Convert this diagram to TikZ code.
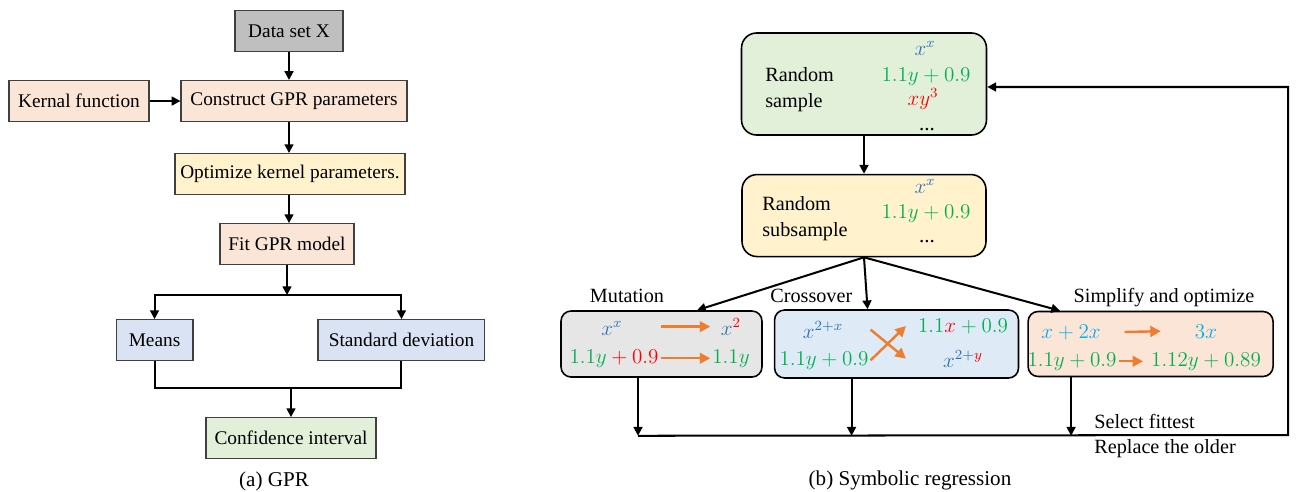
\documentclass[tikz,border=0pt]{standalone}
\usepackage{fontspec}
\setmainfont{Liberation Serif}
\usetikzlibrary{shapes.geometric, arrows.meta, positioning}

\definecolor{datagray}{RGB}{191,191,191}
\definecolor{boxpeach}{RGB}{251,229,214}
\definecolor{boxyellow}{RGB}{255,242,204}
\definecolor{boxblue}{RGB}{218,227,243}
\definecolor{boxgreen}{RGB}{226,240,217}
\definecolor{boxgray}{RGB}{231,230,230}
\definecolor{boxsky}{RGB}{222,235,247}
\definecolor{termblue}{RGB}{46,117,182}
\definecolor{termgreen}{RGB}{0,176,80}
\definecolor{termred}{RGB}{255,0,0}
\definecolor{termcyan}{RGB}{0,176,240}
\definecolor{swaporange}{RGB}{237,125,49}

\tikzstyle{gprbox} = [rectangle, minimum height=0.82cm, text centered, draw=black!75, line width=0.6pt, fill=boxpeach, inner sep=2pt]
\tikzstyle{srbox} = [rectangle, rounded corners=0.3cm, draw=black, line width=0.9pt]
\tikzstyle{srtext} = [font=\fontsize{11.5}{14.8}\selectfont, inner sep=0pt, align=left]
\tikzstyle{termnode} = [font=\fontsize{12}{14}\selectfont, inner sep=1pt, anchor=base]
\tikzstyle{arrow} = [line width=1.15pt, -{Triangle[length=5pt,width=5pt]}]
\tikzstyle{swaparrow} = [draw=swaporange, line width=1.4pt, -{Triangle[length=6pt,width=6pt]}]

\begin{document}
\begin{tikzpicture}[x=0.02cm, y=-0.02cm, font=\fontsize{11}{13}\selectfont]
\useasboundingbox (0,0) rectangle (1298,491);

% GPR flow
\node (data) [gprbox, fill=datagray, minimum width=2.16cm] at (289,31) {Data set X};
\node (construct) [gprbox, minimum width=4.52cm, below=0.56cm of data, xshift=0.1cm] {Construct GPR parameters};
\node (kernal) [gprbox, minimum width=2.8cm, left=0.62cm of construct] {Kernal function};
\node (optimize) [gprbox, fill=boxyellow, minimum width=4.6cm, below=0.62cm of construct, xshift=-0.08cm] {Optimize kernel parameters.};
\node (fit) [gprbox, minimum width=2.68cm, below=0.56cm of optimize, xshift=-0.06cm] {Fit GPR model};

% GPR outputs
\node (means) [gprbox, fill=boxblue, minimum width=1.54cm, below=1.08cm of fit, xshift=-2.65cm] {Means};
\node (std) [gprbox, fill=boxblue, minimum width=3.34cm, below=1.08cm of fit, xshift=2.29cm] {Standard deviation};
\node (confidence) [gprbox, fill=boxgreen, minimum width=3.4cm, below=3.04cm of fit, xshift=0.08cm] {Confidence interval};
\node (cap-a) [font=\fontsize{12}{14}\selectfont] at (274,481) {(a) GPR};

\coordinate (split) at ([yshift=-0.6cm]fit.south);
\coordinate (merge) at ([yshift=0.58cm]confidence.north);

\draw [arrow] (data) -- (data |- construct.north);
\draw [arrow] (kernal) -- (construct);
\draw [arrow] (construct.south -| data) -- (optimize.north -| data);
\draw [arrow] (optimize.south -| data) -- (fit.north -| data);
\draw [arrow] (fit) -- (split);
\draw [arrow] (split) -| (means);
\draw [arrow] (split) -| (std);
\draw [line width=1.15pt] (means) |- (merge) -| (std);
\draw [arrow] (merge) -- (confidence);

% Population
\node (sample) [srbox, fill=boxgreen, minimum width=4.9cm, minimum height=2.04cm] at (864,84) {};
\node (sample-text) [srtext, anchor=west] at (765,90) {Random\\sample};
\node (sample-t1) [termnode] at (925,55) {$\color{termblue}x^x$};
\node (sample-t2) [termnode] at (926,81) {$\color{termgreen}1.1y+0.9$};
\node (sample-t3) [termnode] at (923,105) {$\color{termred}xy^3$};
\node (sample-t4) [termnode] at (927,130) {...};

\node (subsample) [srbox, fill=boxyellow, minimum width=4.88cm, minimum height=1.64cm, below=0.76cm of sample] {};
\node (subsample-text) [srtext, anchor=west] at (762,219) {Random\\subsample};
\node (subsample-t1) [termnode] at (925,193) {$\color{termblue}x^x$};
\node (subsample-t2) [termnode] at (926,218) {$\color{termgreen}1.1y+0.9$};
\node (subsample-t3) [termnode] at (927,242) {...};

% Operators
\node (mutation) [srbox, rounded corners=0.2cm, fill=boxgray, minimum width=4.02cm, minimum height=1.32cm] at (661.5,344) {};
\node (crossover) [srbox, rounded corners=0.2cm, fill=boxsky, minimum width=4.88cm, minimum height=1.36cm, right=0.22cm of mutation] {};
\node (simplify) [srbox, rounded corners=0.2cm, fill=boxpeach, minimum width=4.9cm, minimum height=1.3cm, right=0.16cm of crossover] {};

\node (mutation-label) [srtext, anchor=base] at (627,302) {Mutation};
\node (crossover-label) [srtext, anchor=base west] at (770,302) {Crossover};
\node (simplify-label) [srtext, anchor=base] at (1164,302) {Simplify and optimize};

% Mutation
\node (mutation-src1) [termnode] at (612,335) {$\color{termblue}x^x$};
\node (mutation-dst1) [termnode] at (731,335) {$\color{termblue}x^{\color{termred}2}$};
\node (mutation-src2) [termnode] at (614,363) {$\color{termgreen}1.1y\color{termred}+0.9$};
\node (mutation-dst2) [termnode] at (731,363) {$\color{termgreen}1.1y$};
\draw [swaparrow] (mutation-src2.east |- mutation-dst1) -- (mutation-dst2.west |- mutation-dst1);
\draw [swaparrow] (mutation-src2) -- (mutation-dst2);

% Crossover
\node (crossover-src1) [termnode] at (823,338) {$\color{termblue}x^{2+x}$};
\node (crossover-src2) [termnode] at (824,365) {$\color{termgreen}1.1y+0.9$};
\node (crossover-dst1) [termnode] at (963,332) {$\color{termgreen}1.1\color{termred}x\color{termgreen}+0.9$};
\node (crossover-dst2) [termnode] at (963,367) {$\color{termblue}x^{2+\color{termred}y}$};
\draw [swaparrow] (crossover-src2.east) -- ([xshift=-0.2cm]crossover-dst1.west);
\draw [swaparrow] (crossover-src2.east |- crossover-src1) -- ([xshift=-0.2cm]crossover-dst1.west |- crossover-dst2);

% Simplify
\node (simplify-src1) [termnode] at (1071,338) {$\color{termcyan}x+2x$};
\node (simplify-dst1) [termnode] at (1206,338) {$\color{termcyan}3x$};
\node (simplify-src2) [termnode] at (1072,366) {$\color{termgreen}1.1y+0.9$};
\node (simplify-dst2) [termnode] at (1206,366) {$\color{termgreen}1.12y+0.89$};
\draw [swaparrow] ([xshift=0.44cm]simplify-src1.east) -- ([xshift=-0.64cm]simplify-dst1.west);
\draw [swaparrow] (simplify-src2) -- ([xshift=-0.12cm]simplify-dst2.west);

% Arrows
\draw [arrow] (sample) -- (subsample);
\draw [arrow] (subsample.south) -- ([xshift=0.71cm]mutation.north);
\draw [arrow] (subsample.south) -- ([xshift=-0.58cm]crossover.north);
\draw [arrow] (subsample.south) -- ([xshift=-1.81cm]simplify.north);

\coordinate (mutation-out) at ([xshift=-0.47cm]mutation.south);
\coordinate (mutation-in) at ([yshift=-1.16cm]mutation-out);
\coordinate (crossover-out) at ([xshift=-0.9cm]crossover.south);
\coordinate (simplify-out) at ([xshift=-1.59cm]simplify.south);
\coordinate (loop-corner) at (1288,435);

\draw [arrow] (mutation-out) -- (mutation-in);
\draw [arrow] (crossover-out) -- (crossover-out |- mutation-in);
\draw [arrow] (simplify-out) -- (simplify-out |- mutation-in);
\draw [arrow] (mutation-in) -- (loop-corner) |- ([yshift=-0.06cm]sample.east);

\node (select) [srtext, anchor=base west] at (1094,428) {Select fittest};
\node (replace) [srtext, anchor=base west] at (1094,453) {Replace the older};
\node (cap-b) [font=\fontsize{12}{14}\selectfont] at (910,480) {(b) Symbolic regression};

\end{tikzpicture}
\end{document}
